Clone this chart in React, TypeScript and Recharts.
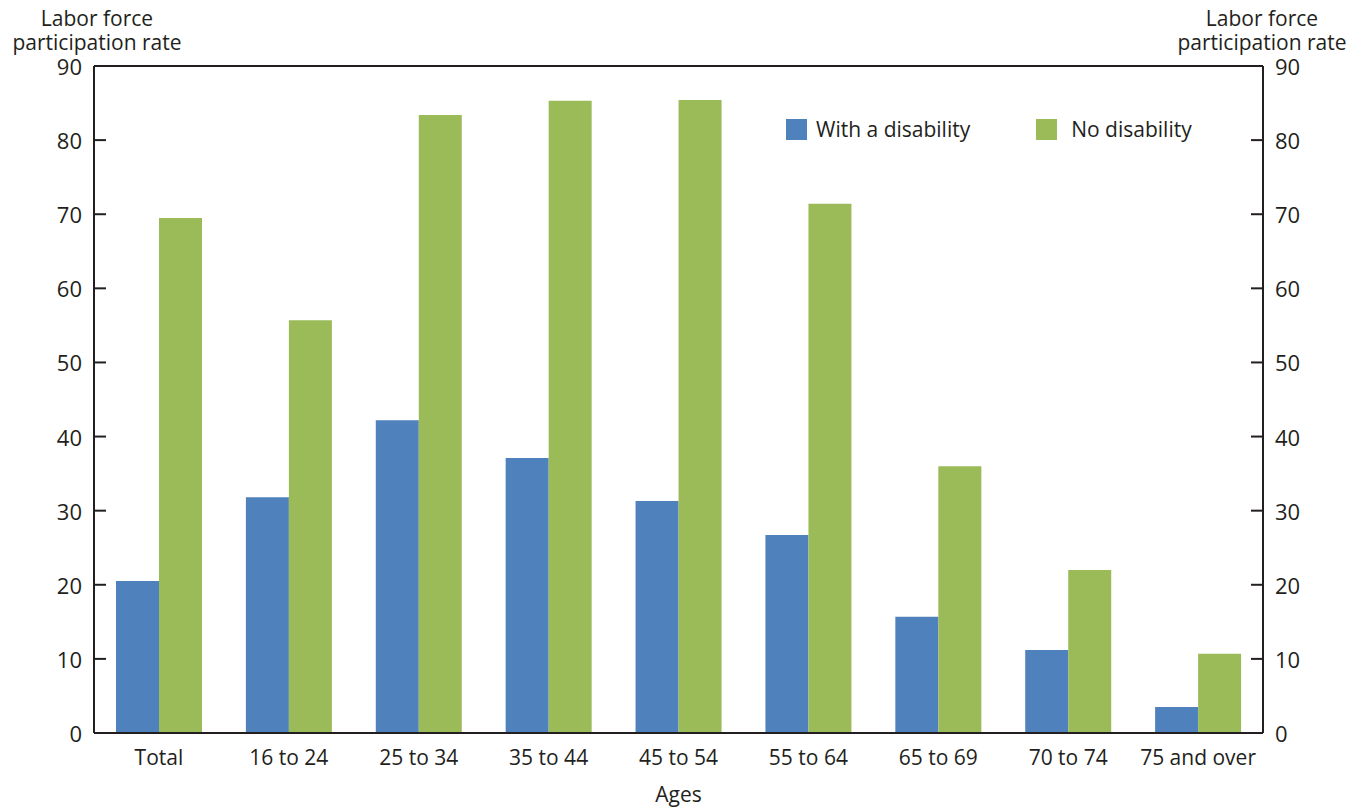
import React from 'react';
import { BarChart, Bar, XAxis, YAxis, ReferenceLine, Label } from 'recharts';

const categories = ['Total', '16 to 24', '25 to 34', '35 to 44', '45 to 54', '55 to 64', '65 to 69', '70 to 74', '75 and over'];
const withDisability = [20.5, 31.8, 42.2, 37.1, 31.3, 26.7, 15.7, 11.2, 3.5];
const noDisability = [69.5, 55.7, 83.4, 85.3, 85.4, 71.4, 36.0, 22.0, 10.7];
const yTicks = [0, 10, 20, 30, 40, 50, 60, 70, 80, 90];

const data = categories.map((c, i) => ({ cat: c, dis: withDisability[i], nodis: noDisability[i] }));

const FONT = '"Open Sans", sans-serif';
const TXT = '#231f20';
const BLUE = '#4f81bd';
const GREEN = '#9bbb59';

const LeftTick = (props: any) => {
  const { x, y, payload } = props;
  return (
    <g>
      <line x1={x + 12} x2={x + 24} y1={y} y2={y} stroke={TXT} strokeWidth={2} />
      <text x={x} y={y} textAnchor="end" dominantBaseline="central" fontSize={22} fontFamily={FONT} fill={TXT}>
        {payload.value}
      </text>
    </g>
  );
};

const RightTick = (props: any) => {
  const { x, y, payload } = props;
  return (
    <g>
      <line x1={x - 12} x2={x - 24} y1={y} y2={y} stroke={TXT} strokeWidth={2} />
      <text x={x} y={y} textAnchor="start" dominantBaseline="central" fontSize={22} fontFamily={FONT} fill={TXT}>
        {payload.value}
      </text>
    </g>
  );
};

const lineStyle: React.CSSProperties = {
  position: 'absolute',
  fontFamily: FONT,
  fontSize: 21,
  color: TXT,
  lineHeight: '22px',
  textAlign: 'center',
  width: 220,
  whiteSpace: 'nowrap',
};

export default function App() {
  return (
    <div style={{ position: 'absolute', left: 0, top: 0, width: 1365, height: 808, background: '#fff' }}>
      <div style={{ ...lineStyle, left: 97 - 110, top: 7 }}>Labor force</div>
      <div style={{ ...lineStyle, left: 97 - 110, top: 31 }}>participation rate</div>
      <div style={{ ...lineStyle, left: 1262 - 110, top: 7 }}>Labor force</div>
      <div style={{ ...lineStyle, left: 1262 - 110, top: 31 }}>participation rate</div>
      <div
        style={{
          position: 'absolute',
          left: 786,
          top: 115,
          display: 'flex',
          alignItems: 'center',
          fontFamily: FONT,
          fontSize: 21,
          color: TXT,
          whiteSpace: 'nowrap',
          zIndex: 2,
        }}
      >
        <span style={{ display: 'inline-block', width: 21, height: 21, background: BLUE, marginRight: 9 }} />
        <span style={{ marginRight: 66 }}>With a disability</span>
        <span style={{ display: 'inline-block', width: 21, height: 21, background: GREEN, marginRight: 14 }} />
        <span>No disability</span>
      </div>
      <BarChart
        width={1365}
        height={808}
        data={data}
        margin={{ top: 66, right: 0, bottom: 0, left: 0 }}
        barGap={0}
        barSize={43}
      >
        <XAxis
          dataKey="cat"
          height={75}
          tickLine={false}
          tickSize={0}
          tickMargin={17}
          axisLine={{ stroke: TXT, strokeWidth: 2 }}
          tick={{ fontSize: 21, fontFamily: FONT, fill: TXT }}
          interval={0}
        >
          <Label value="Ages" position="insideBottom" offset={6} style={{ fontSize: 21, fontFamily: FONT, fill: TXT }} />
        </XAxis>
        <YAxis
          yAxisId="left"
          orientation="left"
          width={94}
          domain={[0, 90]}
          ticks={yTicks}
          tickLine={false}
          tickSize={0}
          tickMargin={12}
          axisLine={{ stroke: TXT, strokeWidth: 2 }}
          tick={<LeftTick />}
          interval={0}
        />
        <YAxis
          yAxisId="right"
          orientation="right"
          width={102}
          domain={[0, 90]}
          ticks={yTicks}
          tickLine={false}
          tickSize={0}
          tickMargin={12}
          axisLine={{ stroke: TXT, strokeWidth: 2 }}
          tick={<RightTick />}
          interval={0}
        />
        <ReferenceLine yAxisId="left" y={90} stroke={TXT} strokeWidth={2} />
        <Bar yAxisId="left" dataKey="dis" name="With a disability" fill={BLUE} isAnimationActive={false} />
        <Bar yAxisId="right" dataKey="nodis" name="No disability" fill={GREEN} isAnimationActive={false} />
      </BarChart>
    </div>
  );
}
